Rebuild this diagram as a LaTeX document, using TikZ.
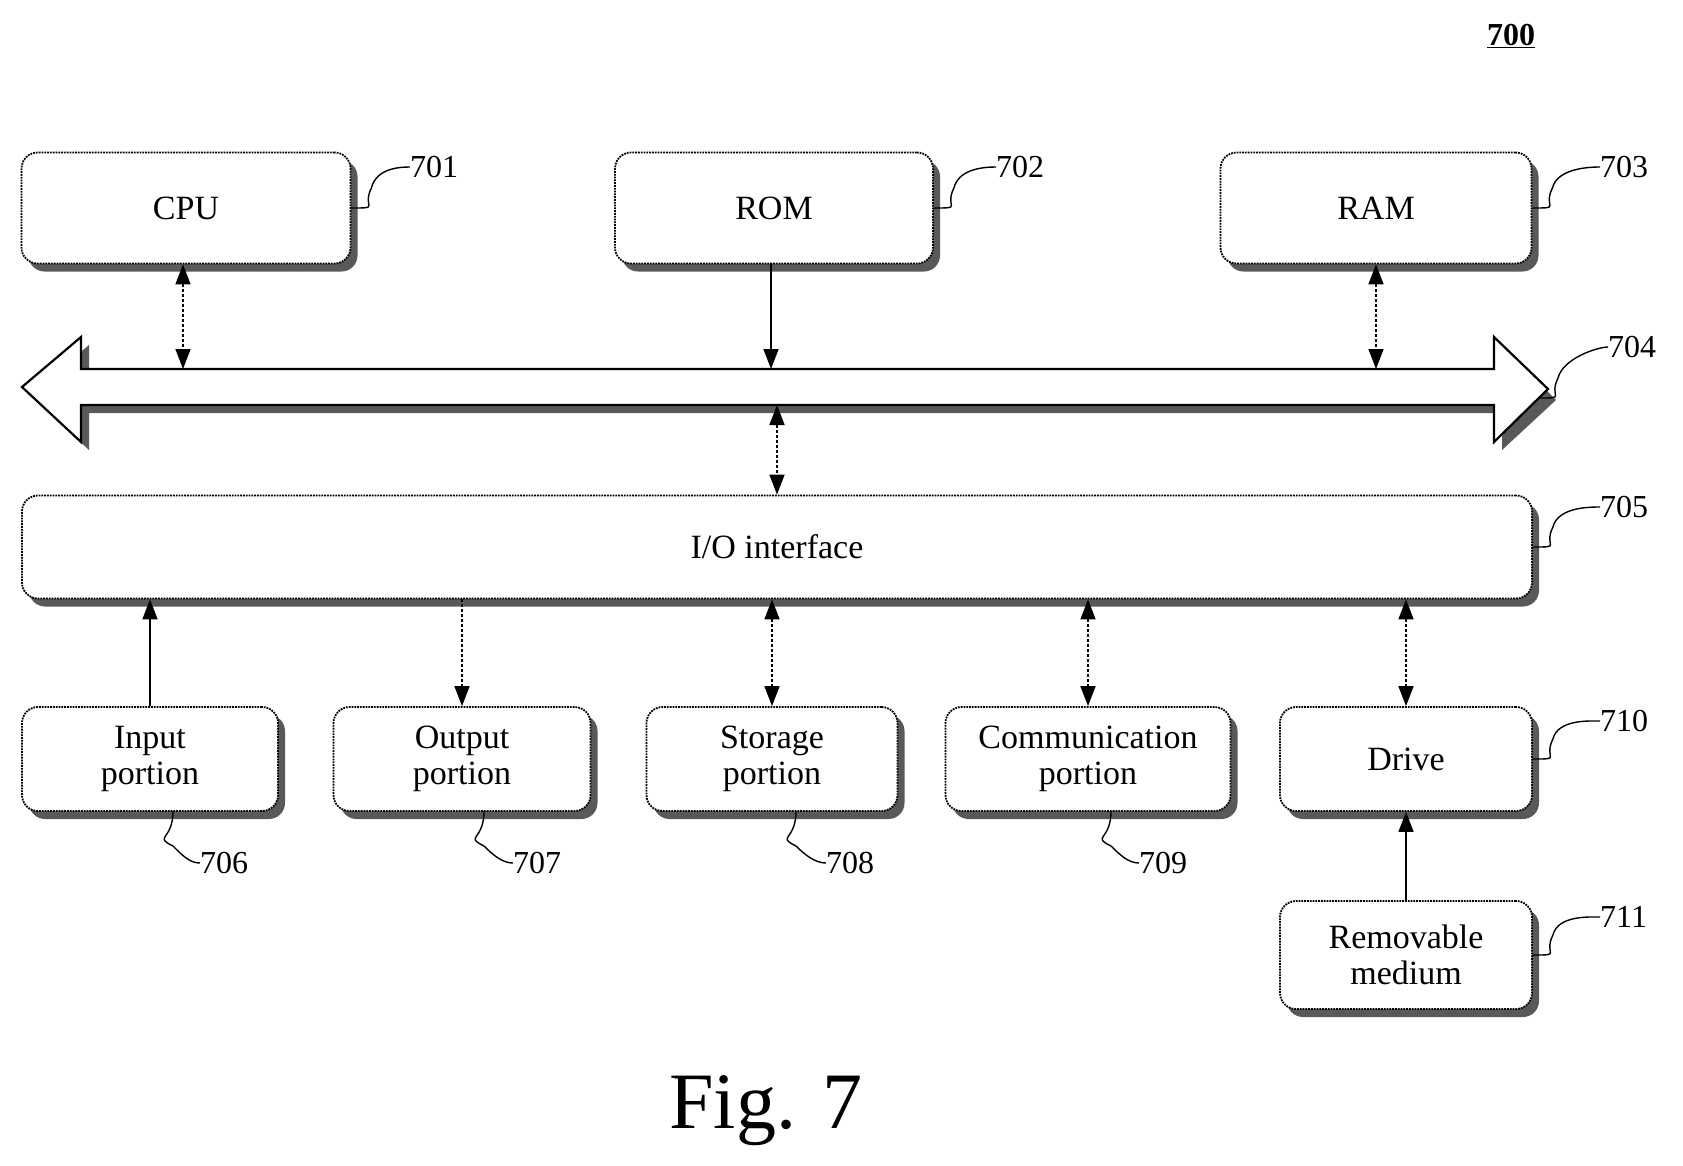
\documentclass[tikz,border=0pt]{standalone}
\usepackage{fontspec}
\setmainfont{Liberation Serif}
\usetikzlibrary{arrows.meta,shadows}
\begin{document}
\begin{tikzpicture}[x=1pt,y=-1pt,
  box/.style={draw,line width=1.8pt,densely dotted,rounded corners=16,fill=white,font=\fontsize{34}{36}\selectfont,align=center,inner sep=0pt,
    drop shadow={shadow xshift=7pt,shadow yshift=-8pt,fill=black!65,opacity=1}},
  lab/.style={font=\fontsize{32}{34}\selectfont,anchor=west,inner sep=0pt},
  lead/.style={line width=1.4pt},
  bi/.style={line width=1.6pt,densely dashed,{Triangle[length=20pt,width=15pt]}-{Triangle[length=20pt,width=15pt]}},
  one/.style={line width=1.6pt,-{Triangle[length=20pt,width=15pt]}}]
\useasboundingbox (0,0) rectangle (1683,1165);
\node[font=\fontsize{32}{34}\selectfont\bfseries] (n700) at (1511,36) {\underline{700}};
% top boxes
\node[box,minimum width=329,minimum height=111] (cpu) at (186,208) {CPU};
\node[box,minimum width=318,minimum height=111] (rom) at (774,208) {ROM};
\node[box,minimum width=311,minimum height=111] (ram) at (1376,208) {RAM};
\node[lab] (l701) at (410,167) {701};
\node[lab] (l702) at (996,167) {702};
\node[lab] (l703) at (1600,167) {703};
\draw[lead] (cpu.east) .. controls +(30,0) and +(-10,20) .. +(20,-20) .. controls +(5,-20) and +(-10,0) .. (l701.west);
\draw[lead] (rom.east) .. controls +(30,0) and +(-10,20) .. +(20,-20) .. controls +(5,-20) and +(-10,0) .. (l702.west);
\draw[lead] (ram.east) .. controls +(30,0) and +(-10,20) .. +(20,-20) .. controls +(5,-20) and +(-10,0) .. (l703.west);
% bus
\fill[black!65] (30,395) -- (89,345) -- (89,377) -- (1502,377) -- (1502,345) -- (1556,400) -- (1502,450) -- (1502,413) -- (89,413) -- (89,450) -- cycle;
\draw[line width=2.2pt,fill=white] (22,387) -- (81,337) -- (81,369) -- (1494,369) -- (1494,337) -- (1548,389) -- (1494,442) -- (1494,405) -- (81,405) -- (81,442) -- cycle;
\coordinate (b1) at (183,369);
\coordinate (b2) at (771,369);
\coordinate (b3) at (1376,369);
\coordinate (b4) at (777,405);
\coordinate (bhead) at (1538,398);
\node[lab] (l704) at (1608,347) {704};
\draw[lead] (bhead) .. controls +(30,0) and +(-10,20) .. +(20,-20) .. controls +(5,-20) and +(-10,0) .. (l704.west);
\draw[bi] (cpu.south -| b1) -- (b1);
\draw[one] (rom.south -| b2) -- (b2);
\draw[bi] (ram.south -| b3) -- (b3);
% IO
\node[box,minimum width=1510,minimum height=103] (io) at (777,547) {I/O interface};
\node[lab] (l705) at (1600,507) {705};
\draw[lead] (io.east) .. controls +(30,0) and +(-10,20) .. +(20,-20) .. controls +(5,-20) and +(-10,0) .. (l705.west);
\draw[bi] (b4) -- (io.north -| b4);
% bottom
\node[box,minimum width=256,minimum height=104] (in) at (150,759) {Input\\portion};
\node[box,minimum width=257,minimum height=104] (out) at (462,759) {Output\\portion};
\node[box,minimum width=251,minimum height=104] (sto) at (772,759) {Storage\\portion};
\node[box,minimum width=285,minimum height=104] (com) at (1088,759) {Communication\\portion};
\node[box,minimum width=252,minimum height=104] (drv) at (1406,759) {Drive};
\node[box,minimum width=252,minimum height=108] (rem) at (1406,955) {Removable\\medium};
\draw[one] (in.north) -- (io.south -| in.north);
\draw[line width=1.6pt,densely dashed,-{Triangle[length=20pt,width=15pt]}] (io.south -| out.north) -- (out.north);
\draw[bi] (io.south -| sto.north) -- (sto.north);
\draw[bi] (io.south -| com.north) -- (com.north);
\draw[bi] (io.south -| drv.north) -- (drv.north);
\draw[one] (rem.north) -- (drv.south);
\node[lab] (l706) at (200,863) {706};
\node[lab] (l707) at (513,863) {707};
\node[lab] (l708) at (826,863) {708};
\node[lab] (l709) at (1139,863) {709};
\node[lab] (l710) at (1600,721) {710};
\node[lab] (l711) at (1600,917) {711};
\coordinate (c6) at (173,811); \coordinate (c7) at (484,811);
\coordinate (c8) at (796,811); \coordinate (c9) at (1111,811);
\foreach \c/\l in {c6/l706,c7/l707,c8/l708,c9/l709}
  \draw[lead] (\c) .. controls +(0,30) and +(-20,-10) .. +(0,35) .. controls +(10,10) and +(-10,0) .. (\l.west);
\draw[lead] (drv.east) .. controls +(30,0) and +(-10,20) .. +(20,-20) .. controls +(5,-20) and +(-10,0) .. (l710.west);
\draw[lead] (rem.east) .. controls +(30,0) and +(-10,20) .. +(20,-20) .. controls +(5,-20) and +(-10,0) .. (l711.west);
\node[font=\fontsize{80}{84}\selectfont] (fig) at (766,1111) {Fig. 7};
\end{tikzpicture}
\end{document}
